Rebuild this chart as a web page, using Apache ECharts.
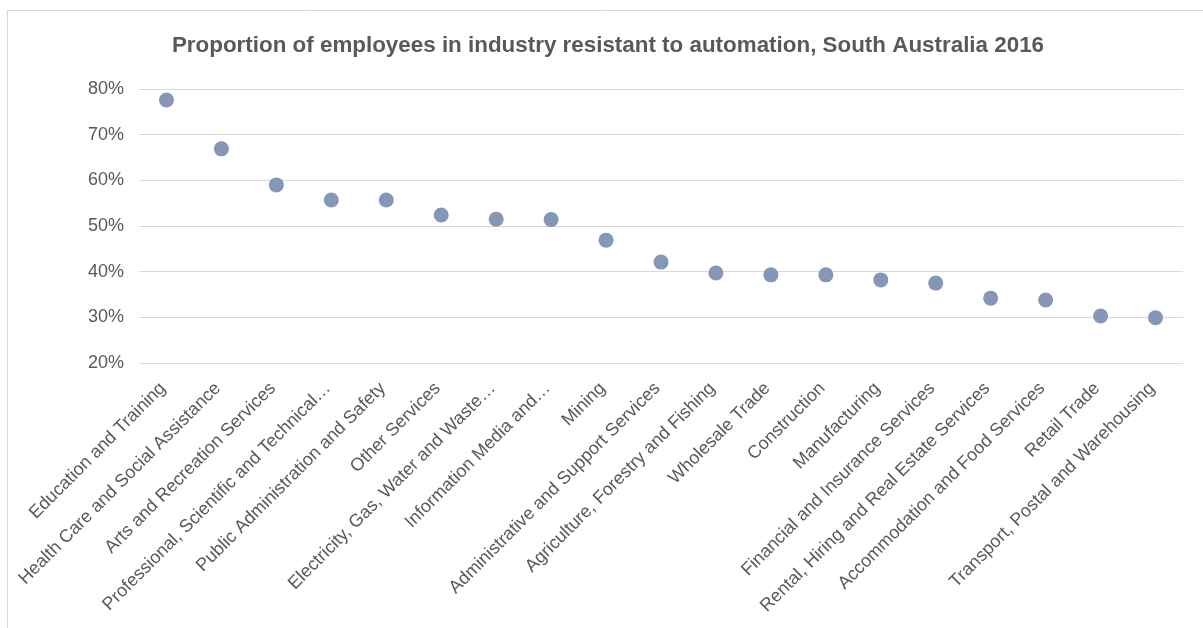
<!DOCTYPE html>
<html>
<head>
<meta charset="utf-8">
<script src="https://cdn.jsdelivr.net/npm/echarts@6/dist/echarts.min.js"></script>
<style>
  html, body { margin: 0; padding: 0; background: #ffffff; }
  #chart { width: 1203px; height: 628px; }
</style>
</head>
<body>
<div id="chart"></div>
<script>
// Industries, ordered by share of employees resistant to automation
const industries = [
  'Education and Training',
  'Health Care and Social Assistance',
  'Arts and Recreation Services',
  'Professional, Scientific and Technical…',
  'Public Administration and Safety',
  'Other Services',
  'Electricity, Gas, Water and Waste…',
  'Information Media and…',
  'Mining',
  'Administrative and Support Services',
  'Agriculture, Forestry and Fishing',
  'Wholesale Trade',
  'Construction',
  'Manufacturing',
  'Financial and Insurance Services',
  'Rental, Hiring and Real Estate Services',
  'Accommodation and Food Services',
  'Retail Trade',
  'Transport, Postal and Warehousing'
];

// Share of employees (%)
const resistantShare = [
  77.6, 66.9, 59.0, 55.7, 55.7, 52.4, 51.5, 51.4, 46.9, 42.1,
  39.7, 39.3, 39.3, 38.2, 37.5, 34.2, 33.8, 30.3, 29.9
];

const FONT = 'Liberation Sans, Arial, sans-serif';
const chart = echarts.init(document.getElementById('chart'), null, { renderer: 'canvas' });

chart.setOption({
  backgroundColor: '#ffffff',
  animation: false,
  graphic: [{
    type: 'rect',
    shape: { x: 7.5, y: 10.5, width: 1300, height: 700 },
    style: { fill: 'none', stroke: '#d9d9d9', lineWidth: 1 },
    silent: true,
    z: 0
  }],
  title: {
    text: 'Proportion of employees in industry resistant to automation, South Australia 2016',
    left: 603,
    textAlign: 'center',
    top: 30,
    textStyle: {
      fontFamily: FONT,
      fontSize: 22.4,
      fontWeight: 'bold',
      color: '#595959'
    }
  },
  grid: { left: 139, right: 20, top: 89, bottom: 265, containLabel: false },
  xAxis: {
    type: 'category',
    data: industries,
    boundaryGap: true,
    axisLine: { show: false },
    axisTick: { show: false },
    axisLabel: {
      rotate: 45,
      interval: 0,
      margin: 19,
      padding: [0, 5, 0, 0],
      fontFamily: FONT,
      fontSize: 18,
      color: '#595959'
    }
  },
  yAxis: {
    type: 'value',
    min: 20,
    max: 80,
    interval: 10,
    axisLine: { show: false },
    axisTick: { show: false },
    splitLine: { lineStyle: { color: '#d9d9d9', width: 1 } },
    axisLabel: {
      formatter: '{value}%',
      margin: 15,
      fontFamily: FONT,
      fontSize: 18,
      color: '#595959'
    }
  },
  series: [{
    type: 'scatter',
    data: resistantShare,
    symbol: 'circle',
    symbolSize: 15,
    itemStyle: { color: '#8497b7', opacity: 1 }
  }]
});
</script>
</body>
</html>
